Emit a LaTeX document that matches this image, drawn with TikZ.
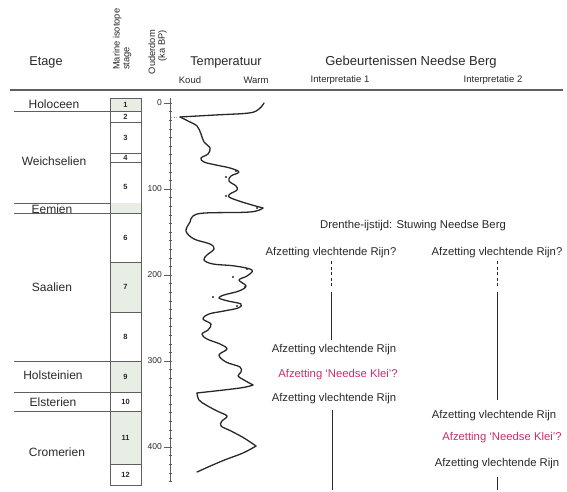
\documentclass[tikz,border=0pt]{standalone}
\usepackage{fontspec}
\setmainfont{Liberation Sans}
\definecolor{tc}{RGB}{40,40,40}
\definecolor{ln}{RGB}{95,95,95}
\definecolor{stagefill}{RGB}{233,238,229}
\definecolor{mag}{RGB}{200,45,110}
\begin{document}
\begin{tikzpicture}[x=1pt,y=-1pt,
  txt/.style={text=tc, inner sep=0pt, font=\fontsize{11.3}{13}\selectfont},
  mtxt/.style={txt, text=mag},
  head/.style={text=tc, inner sep=0pt, font=\fontsize{12.7}{15}\selectfont},
  small/.style={text=tc, inner sep=0pt, font=\fontsize{9.5}{10}\selectfont},
  rot/.style={text=tc, inner sep=0pt, rotate=90, font=\fontsize{9.3}{9.8}\selectfont},
  etage/.style={text=tc, inner sep=0pt, font=\fontsize{12}{14}\selectfont},
  stnum/.style={text=tc, inner sep=0pt, font=\fontsize{7.5}{9}\selectfont\bfseries},
  agelab/.style={text=tc, inner sep=0pt, anchor=east, font=\fontsize{8.5}{10}\selectfont},
  gl/.style={draw=ln, line width=0.6pt},
  conn/.style={draw=tc, line width=0.8pt},
  curve/.style={draw=tc, line width=1.3pt, line join=round, line cap=round},
  dotm/.style={fill=tc, draw=none}
]
\useasboundingbox (0,0) rectangle (567,492);

% header
\node[head] (hetage) at (46,62) {Etage};
\node[rot, anchor=west, align=left] (hmis) at (122,70) {Marine isotope\\stage};
\node[rot, anchor=east, align=right] (hage) at (157.5,30) {Ouderdom\\(ka BP)};
\node[head] (htemp) at (226,62) {Temperatuur};
\node[head, font=\fontsize{13}{15}\selectfont] (hgeb) at (411,62) {Gebeurtenissen Needse Berg};
\node[small] (koud) at (190,80) {Koud};
\node[small] (warm) at (256,80) {Warm};
\node[small] (ip1) at (340,80) {Interpretatie 1};
\node[small] (ip2) at (493,80) {Interpretatie 2};
\draw[draw=ln, line width=1.6pt] (10,90) -- (563,90);

% stage column
\fill[stagefill] (110,98) rectangle (141,111);
\fill[stagefill] (110,203) rectangle (141,213);
\fill[stagefill] (110,262) rectangle (141,312);
\fill[stagefill] (110,361) rectangle (141,392);
\fill[stagefill] (110,411) rectangle (141,464);
\draw[gl] (110,98) rectangle (141,485);
\foreach \yy in {111,122,153,162,213,262,312,361,392,411,464}
  \draw[gl] (110,\yy) -- (141,\yy);

\node[stnum] (s1) at (125.5,104.5) {1};
\node[stnum] (s2) at (125.5,116.5) {2};
\node[stnum] (s3) at (125.5,137.5) {3};
\node[stnum] (s4) at (125.5,157.5) {4};
\node[stnum] (s5) at (125.5,187) {5};
\node[stnum] (s6) at (125.5,237.5) {6};
\node[stnum] (s7) at (125.5,287) {7};
\node[stnum] (s8) at (125.5,336.5) {8};
\node[stnum] (s9) at (125.5,376.5) {9};
\node[stnum] (s10) at (125.5,401.5) {10};
\node[stnum] (s11) at (125.5,437.5) {11};
\node[stnum] (s12) at (125.5,474.5) {12};

% etage lines and labels
\foreach \yy in {111,203,213,361,392,411}
  \draw[gl] (14,\yy) -- (110,\yy);
\node[etage] (holo) at (54,104) {Holoceen};
\node[etage] (weich) at (54,161) {Weichselien};
\node[etage] (eem) at (52,209) {Eemien};
\node[etage] (saal) at (52,287) {Saalien};
\node[etage] (holst) at (53,375) {Holsteinien};
\node[etage] (elst) at (53,402) {Elsterien};
\node[etage] (crom) at (57,452) {Cromerien};

% age axis
\draw[gl] (170,98) -- (170,482);
\foreach \k in {0,...,44}
  \draw[draw=ln, line width=0.4pt] (168.5,103+8.6*\k) -- (171.5,103+8.6*\k);
\foreach \k in {0,1,2,3,4}
  \draw[gl] (164,103+86*\k) -- (170,103+86*\k);
\node[agelab] (a0) at (162,103) {0};
\node[agelab] (a100) at (162,189) {100};
\node[agelab] (a200) at (162,275) {200};
\node[agelab] (a300) at (162,361) {300};
\node[agelab] (a400) at (162,447) {400};

% temperature curve
\draw[curve] plot[smooth, tension=0.6] coordinates {(264,103) (259,109) (249,113) (215,115) (180,117)};
\draw[curve] plot[smooth, tension=0.6] coordinates {(180,117) (188,121) (197,126) (201,134) (204,142) (210,148) (208,154) (201,158) (204,162) (216,165) (230,168) (239,172) (231,176) (229,181) (236,186) (237,190) (230,194) (229,197) (239,201) (252,205) (263,208)};
\draw[curve] plot[smooth, tension=0.6] coordinates {(263,208) (250,212) (205,213) (193,216) (190,222) (186,231) (194,239) (210,244) (214,249) (207,255) (204,260) (213,264) (235,266) (252,270) (247,276) (239,280) (246,286) (239,291) (224,295) (219,298) (228,301) (241,304) (238,308) (224,311) (209,314) (203,319) (211,324) (208,330) (202,334) (207,339) (220,344) (227,349) (219,355) (226,362) (240,367) (241,372) (238,376) (244,380) (253,385)};
\draw[curve] plot[smooth, tension=0.6] coordinates {(253,385) (240,388) (197,393)};
\draw[curve] plot[smooth, tension=0.6] coordinates {(197,393) (199,400) (206,405) (217,411) (227,416) (222,421) (221,426) (231,431) (244,438) (256,446)};
\draw[curve] plot[smooth, tension=0.6] coordinates {(256,446) (243,453) (222,461) (197,472)};
\draw[draw=ln!60, line width=0.6pt, dotted] (171,117) -- (179,117);
\foreach \p in {(236,171),(226,177),(226,196),(257,208),(247,269),(233,277),(245,287),(213,297),(237,306)}
  \fill[dotm] \p circle (1.2);

% events
\node[txt] (dren) at (413,226) {Drenthe-ijstijd: Stuwing Needse Berg};
\node[txt] (l1) at (331,253) {Afzetting vlechtende Rijn?};
\node[txt] (r1) at (497,253) {Afzetting vlechtende Rijn?};
\node[txt] (l2) at (334,350) {Afzetting vlechtende Rijn};
\node[mtxt] (l3) at (338,375) {Afzetting `Needse Klei'?};
\node[txt] (l4) at (334,399) {Afzetting vlechtende Rijn};
\node[txt] (r2) at (494,416) {Afzetting vlechtende Rijn};
\node[mtxt] (r3) at (502,438) {Afzetting `Needse Klei'?};
\node[txt] (r4) at (497,464) {Afzetting vlechtende Rijn};

\coordinate (ld1) at (331,288);
\coordinate (ld2) at (331,292);
\coordinate (ls2) at (331,340);
\coordinate (lb1) at (332,410);
\coordinate (lb2) at (332,490);
\coordinate (rd1) at (497,288);
\coordinate (rd2) at (497,292);
\coordinate (rs2) at (497,400);
\coordinate (rb1) at (497,477);
\coordinate (rb2) at (497,490);

\draw[conn, dash pattern=on 3pt off 2.5pt, shorten <=3pt] (l1.south -| ld1) -- (ld1);
\draw[conn] (ld2) -- (ls2);
\draw[conn] (lb1) -- (lb2);
\draw[conn, dash pattern=on 3pt off 2.5pt, shorten <=3pt] (r1.south -| rd1) -- (rd1);
\draw[conn] (rd2) -- (rs2);
\draw[conn] (rb1) -- (rb2);
\end{tikzpicture}
\end{document}
